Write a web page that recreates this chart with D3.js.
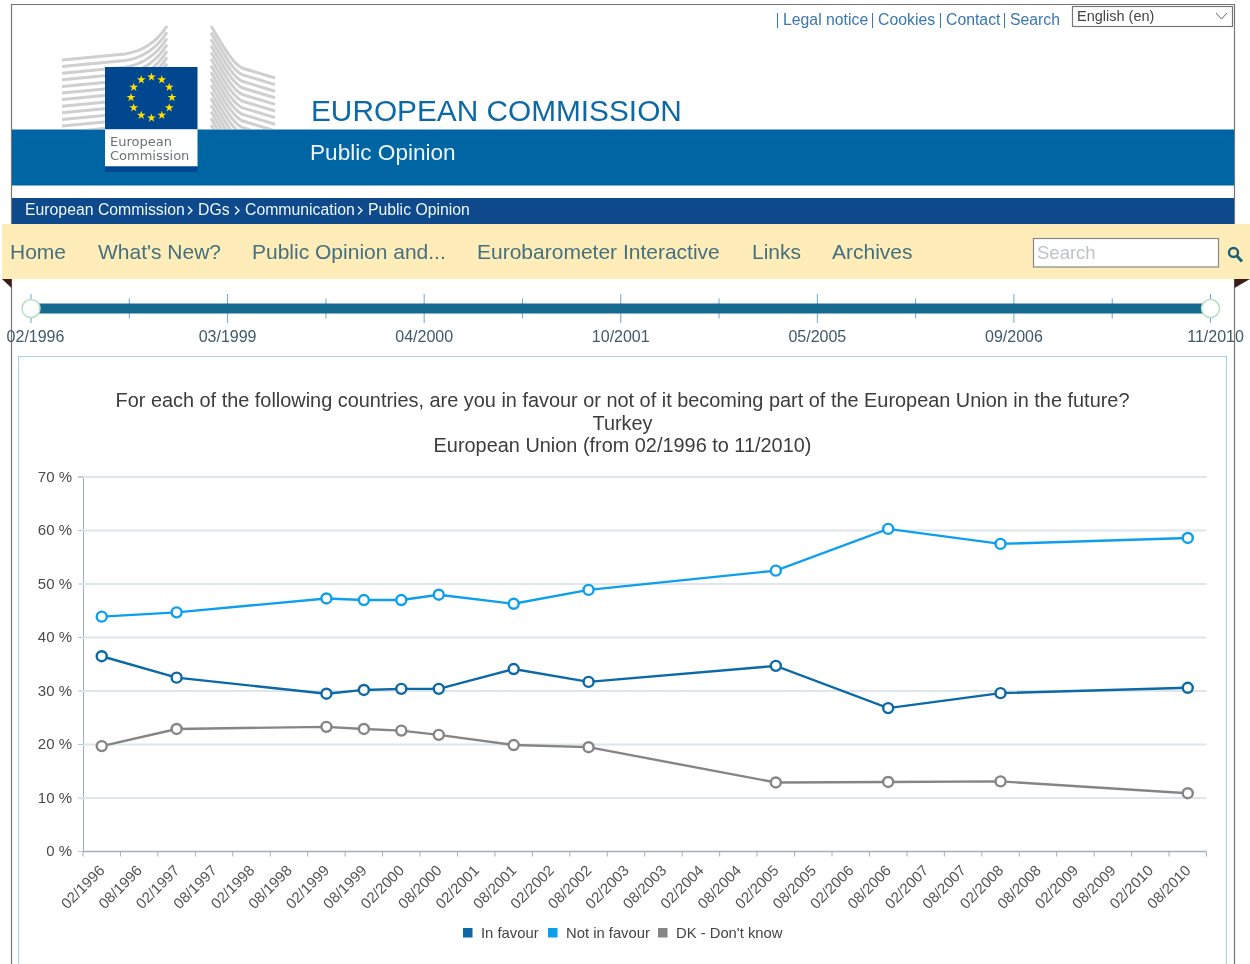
<!DOCTYPE html>
<html>
<head>
<meta charset="utf-8">
<script src="https://d3js.org/d3.v7.min.js"></script>
<style>
  html, body { margin: 0; padding: 0; background: #fff; overflow: hidden; }
  svg { display: block; }
  text { font-family: "Liberation Sans", Arial, sans-serif; }
</style>
</head>
<body>
<div id="container"></div>
<script>
/* CONSTANTS AND DATA */
const width = 1250;
const height = 964;

const months = ["02/1996","08/1996","02/1997","08/1997","02/1998","08/1998","02/1999","08/1999","02/2000","08/2000",
  "02/2001","08/2001","02/2002","08/2002","02/2003","08/2003","02/2004","08/2004","02/2005","08/2005",
  "02/2006","08/2006","02/2007","08/2007","02/2008","08/2008","02/2009","08/2009","02/2010","08/2010"];
const waves = ["02/1996","02/1997","02/1999","08/1999","02/2000","08/2000","08/2001","08/2002","02/2005","08/2006","02/2008","08/2010"];
const inFavour = [36.5,32.5,29.5,30.2,30.4,30.4,34.1,31.7,34.7,26.8,29.6,30.6];
const notInFavour = [43.9,44.7,47.3,47.0,47.0,48.0,46.3,48.9,52.5,60.3,57.5,58.6];
const dontKnow = [19.7,22.9,23.3,22.9,22.6,21.8,19.9,19.5,12.9,13.0,13.1,10.9];
const yTicks = [0,10,20,30,40,50,60,70];
const seriesNames = ["In favour","Not in favour","DK - Don't know"];
const seriesColors = ["#0a69a5","#0d9fee","#858585"];

const sliderTicks = ["02/1996","","03/1999","","04/2000","","10/2001","","05/2005","","09/2006","","11/2010"];
const navItems = ["Home","What's New?","Public Opinion and...","Eurobarometer Interactive","Links","Archives"];
const navX = [10,98,252,477,752,832];
const topLinks = ["Legal notice","Cookies","Contact","Search"];
const topLinkX = [783,878,946,1010];
const crumbs = ["European Commission","DGs","Communication","Public Opinion"];
const crumbX = [25,198,245,368];

const svg = d3.select("#container").append("svg")
  .attr("width", width)
  .attr("height", height);

/* PAGE HEADER */
const page = svg.append("g").attr("filter", "url(#soft)");
const defs = svg.append("defs");
defs.append("filter").attr("id", "soft")
  .attr("x", 0).attr("y", 0).attr("width", 1).attr("height", 1)
  .attr("filterUnits", "objectBoundingBox")
  .append("feGaussianBlur").attr("stdDeviation", 0.4);
defs.append("clipPath").attr("id", "wings")
  .append("rect").attr("x", 55).attr("y", 20).attr("width", 225).attr("height", 109);

// outer frame
page.append("rect").attr("x", 0).attr("y", 0).attr("width", width).attr("height", height).attr("fill", "#fff");
page.append("path").attr("d", "M11.5,964V4.5H1234.5V964").attr("fill", "none").attr("stroke", "#777").attr("stroke-width", 1.2);

// building behind the logo
const wings = page.append("g").attr("clip-path", "url(#wings)").attr("fill", "none").attr("stroke", "#cfcfcf").attr("stroke-width", 3);
d3.range(0, 16).forEach(i => {
  const o = i * 6.6;
  wings.append("path").attr("d", `M62,${60 + o}L125,${54 + o}C145,${51 + o} 158,${40 + o * 0.95} 167,${26 + o * 0.95}`);
  wings.append("path").attr("d", `M211,${26 + o}C222,${44 + o} 232,${63 + o} 242,${68 + o}L275,${78 + o}`);
});

// bands
page.append("rect").attr("x", 12).attr("y", 129.5).attr("width", 1222).attr("height", 56).attr("fill", "#0265a3");
page.append("rect").attr("x", 12).attr("y", 198).attr("width", 1222).attr("height", 27).attr("fill", "#074a8b");

// logo
page.append("rect").attr("x", 105).attr("y", 67).attr("width", 92.5).attr("height", 62).attr("fill", "#03468f");
page.append("rect").attr("x", 105).attr("y", 129.5).attr("width", 92.5).attr("height", 37).attr("fill", "#fff");
page.append("rect").attr("x", 105).attr("y", 166.5).attr("width", 92.5).attr("height", 5.5).attr("fill", "#03468f");
page.selectAll("path.star")
  .data(d3.range(12))
  .join("path")
  .attr("class", "star")
  .attr("d", d3.symbol(d3.symbolStar, 24))
  .attr("fill", "#ffe000")
  .attr("transform", i => `translate(${151.5 + 20.5 * Math.sin(i * Math.PI / 6)},${97.5 - 20.5 * Math.cos(i * Math.PI / 6)})`);
page.selectAll("text.logo")
  .data(["European","Commission"])
  .join("text")
  .attr("class", "logo")
  .attr("x", 110)
  .attr("y", (d, i) => 146 + i * 13.5)
  .attr("fill", "#6d7278")
  .style("font-family", "'DejaVu Sans'")
  .style("font-size", "13px")
  .text(d => d);

page.append("text").attr("x", 311).attr("y", 121).attr("fill", "#1168a6")
  .style("font-size", "29.8px").text("EUROPEAN COMMISSION");
page.append("text").attr("x", 310).attr("y", 160).attr("fill", "#eef5fa")
  .style("font-size", "22.6px").text("Public Opinion");

// top links
page.selectAll("text.top")
  .data(topLinks)
  .join("text")
  .attr("class", "top")
  .attr("x", (d, i) => topLinkX[i])
  .attr("y", 25)
  .attr("fill", "#3b77b0")
  .style("font-size", "15.8px")
  .text(d => d);
page.selectAll("line.sep")
  .data(topLinkX)
  .join("line")
  .attr("class", "sep")
  .attr("x1", d => d - 5.5).attr("x2", d => d - 5.5)
  .attr("y1", 13).attr("y2", 28)
  .attr("stroke", "#3b77b0");

// language select
page.append("rect").attr("x", 1072.5).attr("y", 6.5).attr("width", 160).attr("height", 20)
  .attr("fill", "#fff").attr("stroke", "#777").attr("stroke-width", 1.2);
page.append("text").attr("x", 1077).attr("y", 21).attr("fill", "#444").style("font-size", "14.5px").text("English (en)");
page.append("path").attr("d", "M1216,13l5.5,6l5.5,-6").attr("fill", "none").attr("stroke", "#666");

// breadcrumb
page.selectAll("text.crumb")
  .data(crumbs)
  .join("text")
  .attr("class", "crumb")
  .attr("x", (d, i) => crumbX[i])
  .attr("y", 215)
  .attr("fill", "#f2f6fa")
  .style("font-size", "15.8px")
  .text(d => d);
page.selectAll("path.chev")
  .data(crumbX.slice(1))
  .join("path")
  .attr("class", "chev")
  .attr("d", d => `M${d - 10},206.5l4,4l-4,4`)
  .attr("fill", "none")
  .attr("stroke", "#f2f6fa")
  .attr("stroke-width", 1.4);

// nav bar
page.append("path").attr("d", "M2,279h9.5v9z").attr("fill", "#3c1f1c");
page.append("path").attr("d", "M1234.5,279H1250l-15.5,9z").attr("fill", "#3c1f1c");
page.append("rect").attr("x", 2).attr("y", 224).attr("width", 1248).attr("height", 55).attr("fill", "#feedb9");
page.selectAll("text.nav")
  .data(navItems)
  .join("text")
  .attr("class", "nav")
  .attr("x", (d, i) => navX[i])
  .attr("y", 259)
  .attr("fill", "#44707f")
  .style("font-size", "21px")
  .text(d => d);
page.append("rect").attr("x", 1033.5).attr("y", 238.5).attr("width", 185).attr("height", 28.5)
  .attr("fill", "#fff").attr("stroke", "#888").attr("stroke-width", 1.2);
page.append("text").attr("x", 1037).attr("y", 259).attr("fill", "#bfc3c6").style("font-size", "18.5px").text("Search");
page.append("circle").attr("cx", 1233.5).attr("cy", 252.5).attr("r", 4.5).attr("fill", "none").attr("stroke", "#1f6079").attr("stroke-width", 2.4);
page.append("line").attr("x1", 1237).attr("y1", 256).attr("x2", 1242).attr("y2", 261.5).attr("stroke", "#1f6079").attr("stroke-width", 3);

/* TIME SLIDER */
const sliderScale = d3.scalePoint()
  .domain(d3.range(sliderTicks.length))
  .range([31, 1210.5]);

page.selectAll("line.sliderTick")
  .data(sliderTicks)
  .join("line")
  .attr("class", "sliderTick")
  .attr("x1", (d, i) => sliderScale(i))
  .attr("x2", (d, i) => sliderScale(i))
  .attr("y1", d => d ? 294 : 298.5)
  .attr("y2", d => d ? 323 : 318.5)
  .attr("stroke", "#6aa9c6");
page.append("rect").attr("x", sliderScale(0)).attr("y", 303.5).attr("width", sliderScale(12) - sliderScale(0)).attr("height", 10).attr("fill", "#156a8f");
page.selectAll("circle.handle")
  .data([0, 12])
  .join("circle")
  .attr("class", "handle")
  .attr("cx", d => sliderScale(d))
  .attr("cy", 308.5)
  .attr("r", 9)
  .attr("fill", "#fff")
  .attr("stroke", "#b5e0c4")
  .attr("stroke-width", 1.5);
page.selectAll("text.sliderLabel")
  .data(sliderTicks)
  .join("text")
  .attr("class", "sliderLabel")
  .attr("x", (d, i) => i === 0 ? 35.5 : i === 12 ? 1215.5 : sliderScale(i))
  .attr("y", 342)
  .attr("text-anchor", "middle")
  .attr("fill", "#3f5a69")
  .style("font-size", "16px")
  .text(d => d);

/* CHART PANEL */
const panel = svg.append("g").attr("filter", "url(#soft)");
panel.append("path").attr("d", "M18.5,964V356.5H1226.5V964").attr("fill", "#fff").attr("stroke", "#a9d0e5").attr("stroke-width", 1.2);

const titleLines = [
  "For each of the following countries, are you in favour or not of it becoming part of the European Union in the future?",
  "Turkey",
  "European Union (from 02/1996 to 11/2010)"
];
panel.selectAll("text.title")
  .data(titleLines)
  .join("text")
  .attr("class", "title")
  .attr("x", 622.5)
  .attr("y", (d, i) => 407 + i * 22.5)
  .attr("text-anchor", "middle")
  .attr("fill", "#3c3c3c")
  .style("font-size", "19.9px")
  .text(d => d);

/* SCALES */
const xScale = d3.scaleBand()
  .domain(months)
  .range([83, 1206.5]);

const yScale = d3.scaleLinear()
  .domain([0, 70])
  .range([851.5, 477]);

/* AXES */
const yAxis = panel.append("g")
  .attr("transform", "translate(83,-0.5)")
  .call(d3.axisLeft(yScale).tickValues(yTicks).tickSize(5).tickPadding(6).tickFormat(d => d + " %"));
yAxis.select(".domain").attr("stroke", "#9fb0b8");
yAxis.selectAll("line").attr("stroke", "#b9c6cd");
yAxis.selectAll("text")
  .attr("fill", "#4a4a4a")
  .style("font-family", "'Liberation Sans'")
  .style("font-size", "15px");

// gridlines
panel.append("g")
  .selectAll("line")
  .data(yTicks.filter(d => d > 0))
  .join("line")
  .attr("x1", 83)
  .attr("x2", 1206.5)
  .attr("y1", d => yScale(d))
  .attr("y2", d => yScale(d))
  .attr("stroke", "#dfe6ea")
  .attr("stroke-width", 1.8);

// x axis: labels sit on the band centres, ticks on the band edges
const xAxis = panel.append("g")
  .attr("transform", "translate(0,851.5)")
  .call(d3.axisBottom(xScale).tickSize(0));
xAxis.select(".domain").remove();
xAxis.selectAll("text")
  .attr("transform", "translate(-2,14)rotate(-45)")
  .attr("dy", "0.35em")
  .style("text-anchor", "end")
  .attr("fill", "#555")
  .style("font-family", "'Liberation Sans'")
  .style("font-size", "15px");
panel.append("line").attr("x1", 83).attr("x2", 1206.5).attr("y1", 851.5).attr("y2", 851.5).attr("stroke", "#9fb0b8").attr("stroke-width", 1.4);
panel.append("g")
  .selectAll("line")
  .data(months.map(m => xScale(m)).concat([1206.5]))
  .join("line")
  .attr("x1", d => d)
  .attr("x2", d => d)
  .attr("y1", 851.5)
  .attr("y2", 856.5)
  .attr("stroke", "#9fb0b8");

/* LINES AND POINTS */
const xPos = d => xScale(d) + xScale.bandwidth() / 2;
const lineGen = d3.line().x(d => xPos(d.wave)).y(d => yScale(d.value));

[inFavour, notInFavour, dontKnow].forEach((values, s) => {
  const rows = waves.map((wave, i) => ({ wave, value: values[i] }));
  panel.append("path")
    .datum(rows)
    .attr("d", lineGen)
    .attr("fill", "none")
    .attr("stroke", seriesColors[s])
    .attr("stroke-width", 2.4);
  panel.append("g")
    .selectAll("circle")
    .data(rows)
    .join("circle")
    .attr("cx", d => xPos(d.wave))
    .attr("cy", d => yScale(d.value))
    .attr("r", 5)
    .attr("fill", "#fff")
    .attr("stroke", seriesColors[s])
    .attr("stroke-width", 2.4);
});

/* LEGEND */
const legendBoxX = [463, 548, 658];
const legend = panel.selectAll("g.legend")
  .data(seriesNames)
  .join("g")
  .attr("class", "legend")
  .attr("transform", (d, i) => `translate(${legendBoxX[i]},928)`);
legend.append("rect")
  .attr("width", 9.5)
  .attr("height", 9.5)
  .attr("fill", (d, i) => seriesColors[i]);
legend.append("text")
  .attr("x", 18)
  .attr("y", 10)
  .attr("fill", "#444")
  .style("font-size", "14.8px")
  .text(d => d);
</script>
</body>
</html>
